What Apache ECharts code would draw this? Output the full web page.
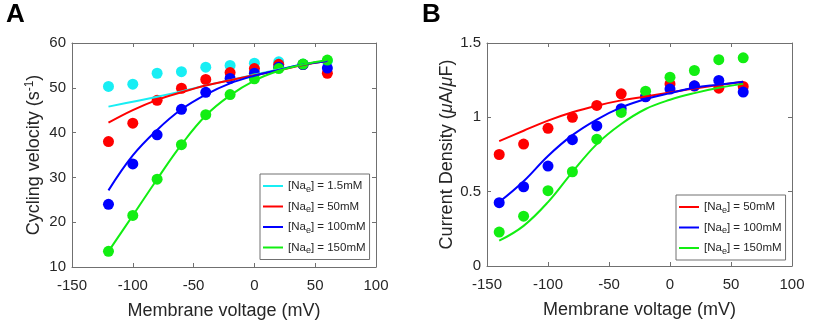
<!DOCTYPE html>
<html>
<head>
<meta charset="utf-8">
<script src="https://cdn.jsdelivr.net/npm/echarts@6/dist/echarts.min.js"></script>
<style>
html, body { margin: 0; padding: 0; background: #fff; }
#chart { width: 830px; height: 321px; }
</style>
</head>
<body>
<div id="chart"></div>
<script>
// voltage steps (mV)
let voltsA = [-120, -100, -80, -60, -40, -20, 0, 20, 40, 60];
let voltsB = [-140, -120, -100, -80, -60, -40, -20, 0, 20, 40, 60];

// panel A: cycling velocity, measured dots
let cyanDotsA  = [50.3, 50.8, 53.25, 53.6, 54.6, 55.0, 55.5, 55.8, 55.3, 56.0];
let redDotsA   = [38.0, 42.1, 47.2, 49.9, 51.85, 53.4, 54.3, 55.25, 55.2, 53.25];
let blueDotsA  = [24.0, 33.0, 39.5, 45.2, 49.0, 52.1, 53.25, 54.6, 55.2, 54.4];
let greenDotsA = [13.5, 21.5, 29.6, 37.3, 44.0, 48.5, 52.0, 54.3, 55.3, 56.2];

// panel A: model curves
let cyanFitA  = [45.8, 46.9, 48.0, 49.2, 50.5, 51.7, 52.9, 54.1, 55.2, 56.0];
let redFitA   = [42.2, 45.0, 47.3, 49.0, 50.5, 51.7, 52.8, 53.9, 55.1, 56.0];
let blueFitA  = [27.1, 34.9, 40.6, 45.2, 48.5, 51.0, 52.7, 54.0, 55.2, 56.0];
let greenFitA = [13.5, 21.5, 29.6, 37.3, 43.8, 48.3, 51.6, 53.8, 55.2, 56.2];

// panel B: current density, measured dots
let redDotsB   = [0.75, 0.82, 0.926, 1.0, 1.08, 1.158, 1.14, 1.225, 1.21, 1.196, 1.208];
let blueDotsB  = [0.426, 0.533, 0.672, 0.85, 0.942, 1.058, 1.138, 1.19, 1.212, 1.248, 1.17];
let greenDotsB = [0.228, 0.335, 0.507, 0.634, 0.853, 1.033, 1.176, 1.27, 1.315, 1.388, 1.40];

// panel B: model curves
let redFitB   = [0.84, 0.91, 0.978, 1.034, 1.078, 1.114, 1.14, 1.167, 1.194, 1.217, 1.24];
let blueFitB  = [0.43, 0.57, 0.74, 0.88, 0.985, 1.067, 1.123, 1.163, 1.199, 1.22, 1.24];
let greenFitB = [0.17, 0.27, 0.43, 0.632, 0.82, 0.955, 1.056, 1.118, 1.163, 1.199, 1.225];

// tick settings
let xTicks = {min: -150, max: 100, step: 50};
let yTicksA = {min: 10, max: 60, step: 10};
let yTicksB = {min: 0, max: 1.5, step: 0.5};

let legendNames = {
    'a1.5': '[Na{s|e}] = 1.5mM',
    'a50': '[Na{s|e}] = 50mM',
    'a100': '[Na{s|e}] = 100mM',
    'a150': '[Na{s|e}] = 150mM',
    'b50': '[Na{s|e}] = 50mM',
    'b100': '[Na{s|e}] = 100mM',
    'b150': '[Na{s|e}] = 150mM'
};

let colors = {cyan: '#18eef4', red: '#ff0000', blue: '#0000ff', green: '#12ee12'};
let font = 'Liberation Sans';
let frameColor = '#707070';
let textColor = '#262626';

function pairs(xs, ys) {
    return xs.map(function (x, i) { return [x, ys[i]]; });
}

function dots(xs, ys, color, idx) {
    return {
        type: 'scatter',
        xAxisIndex: idx, yAxisIndex: idx,
        data: pairs(xs, ys),
        symbol: 'circle',
        symbolSize: 11,
        itemStyle: {color: color, opacity: 1},
        silent: true
    };
}

function fit(name, xs, ys, color, idx) {
    return {
        name: name,
        type: 'line',
        xAxisIndex: idx, yAxisIndex: idx,
        data: pairs(xs, ys),
        smooth: 0.4,
        showSymbol: false,
        lineStyle: {width: 2, color: color},
        itemStyle: {color: color}
    };
}

function xAxis(grid, pos, withLabels) {
    return {
        gridIndex: grid,
        type: 'value',
        position: pos,
        min: xTicks.min, max: xTicks.max, interval: xTicks.step,
        axisLine: {show: true, onZero: false, lineStyle: {color: frameColor, width: 1}},
        axisTick: {show: true, inside: true, length: 4, lineStyle: {color: frameColor}},
        axisLabel: {show: withLabels, margin: 11, fontSize: 15, fontFamily: font, color: textColor},
        splitLine: {show: false},
        name: withLabels ? 'Membrane voltage (mV)' : '',
        nameLocation: 'middle',
        nameGap: 35,
        nameTextStyle: {fontSize: 18, fontFamily: font, color: textColor}
    };
}

function yAxis(grid, pos, t, withLabels, name, gap) {
    return {
        gridIndex: grid,
        type: 'value',
        position: pos,
        min: t.min, max: t.max, interval: t.step,
        axisLine: {show: true, onZero: false, lineStyle: {color: frameColor, width: 1}},
        axisTick: {show: true, inside: true, length: 4, lineStyle: {color: frameColor}},
        axisLabel: {show: withLabels, margin: 6, fontSize: 15, fontFamily: font, color: textColor},
        splitLine: {show: false},
        name: withLabels ? name : '',
        nameLocation: 'middle',
        nameRotate: 90,
        nameGap: gap,
        nameTextStyle: {
            fontSize: 18, fontFamily: font, color: textColor,
            rich: {
                sup: {fontSize: 12, fontFamily: font, color: textColor, padding: [0, 0, 9, 0]},
                it: {fontSize: 18, fontFamily: font, color: textColor, fontStyle: 'italic'}
            }
        }
    };
}

function legend(names, left, top) {
    return {
        data: names,
        orient: 'vertical',
        left: left, top: top,
        icon: 'rect',
        itemWidth: 20, itemHeight: 2,
        itemGap: 5.5,
        padding: [5, 4, 4, 3],
        backgroundColor: '#fff',
        borderColor: frameColor,
        borderWidth: 1,
        borderRadius: 0,
        selectedMode: false,
        formatter: function (n) { return legendNames[n]; },
        textStyle: {
            fontSize: 11.5, fontFamily: font, color: textColor, lineHeight: 14,
            rich: {s: {fontSize: 9, fontFamily: font, color: textColor, padding: [7, 0, 0, 0]}}
        }
    };
}

let option = {
    animation: false,
    backgroundColor: '#fff',
    title: [
        {text: 'A', left: 1, top: -3, textStyle: {fontSize: 26, fontWeight: 'bold', fontFamily: font, color: '#000'}},
        {text: 'B', left: 417, top: -3, textStyle: {fontSize: 26, fontWeight: 'bold', fontFamily: font, color: '#000'}}
    ],
    grid: [
        {left: 72, top: 43, width: 304, height: 224, outerBoundsMode: 'none', containLabel: false},
        {left: 487, top: 43, width: 305, height: 223, outerBoundsMode: 'none', containLabel: false}
    ],
    xAxis: [
        xAxis(0, 'bottom', true),
        xAxis(0, 'top', false),
        xAxis(1, 'bottom', true),
        xAxis(1, 'top', false)
    ],
    yAxis: [
        yAxis(0, 'left', yTicksA, true, 'Cycling velocity (s{sup|-1})', 27),
        yAxis(0, 'right', yTicksA, false, '', 0),
        yAxis(1, 'left', yTicksB, true, 'Current Density ({it|μ}A/{it|μ}F)', 29),
        yAxis(1, 'right', yTicksB, false, '', 0)
    ],
    legend: [
        legend(['a1.5', 'a50', 'a100', 'a150'], 260, 174),
        legend(['b50', 'b100', 'b150'], 676, 195)
    ],
    series: [
        dots(voltsA, cyanDotsA, colors.cyan, 0),
        fit('a1.5', voltsA, cyanFitA, colors.cyan, 0),
        dots(voltsA, redDotsA, colors.red, 0),
        fit('a50', voltsA, redFitA, colors.red, 0),
        dots(voltsA, blueDotsA, colors.blue, 0),
        fit('a100', voltsA, blueFitA, colors.blue, 0),
        dots(voltsA, greenDotsA, colors.green, 0),
        fit('a150', voltsA, greenFitA, colors.green, 0),

        dots(voltsB, redDotsB, colors.red, 2),
        fit('b50', voltsB, redFitB, colors.red, 2),
        dots(voltsB, blueDotsB, colors.blue, 2),
        fit('b100', voltsB, blueFitB, colors.blue, 2),
        dots(voltsB, greenDotsB, colors.green, 2),
        fit('b150', voltsB, greenFitB, colors.green, 2)
    ]
};

let myChart = echarts.init(document.getElementById('chart'));
myChart.setOption(option);
</script>
</body>
</html>
